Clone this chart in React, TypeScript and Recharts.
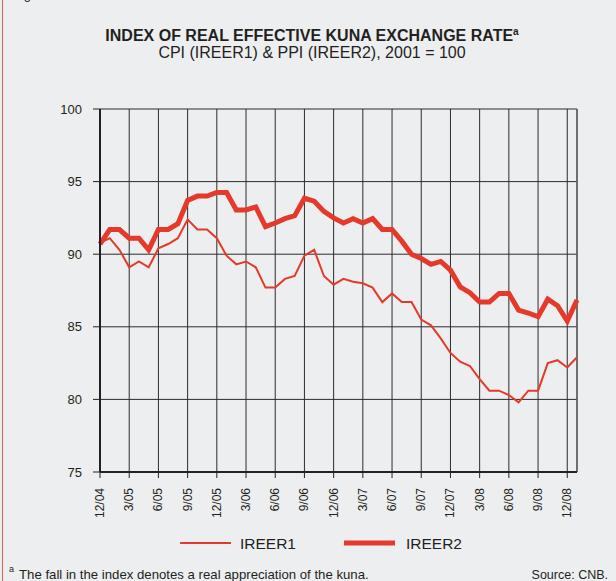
import React from "react";
import { LineChart, Line, XAxis, YAxis, CartesianGrid, ReferenceLine } from "recharts";

const months = [
  "12/04",
  "1/05", "2/05", "3/05", "4/05", "5/05", "6/05", "7/05", "8/05", "9/05", "10/05", "11/05", "12/05",
  "1/06", "2/06", "3/06", "4/06", "5/06", "6/06", "7/06", "8/06", "9/06", "10/06", "11/06", "12/06",
  "1/07", "2/07", "3/07", "4/07", "5/07", "6/07", "7/07", "8/07", "9/07", "10/07", "11/07", "12/07",
  "1/08", "2/08", "3/08", "4/08", "5/08", "6/08", "7/08", "8/08", "9/08", "10/08", "11/08", "12/08",
  "1/09",
];

const ireer1 = [
  90.8, 91.1, 90.3, 89.1, 89.5, 89.1, 90.4, 90.7, 91.1, 92.4, 91.7, 91.7, 91.1,
  89.9, 89.3, 89.5, 89.1, 87.7, 87.7, 88.3, 88.5, 89.9, 90.3, 88.5, 87.9,
  88.3, 88.1, 88.0, 87.7, 86.7, 87.3, 86.7, 86.7, 85.5, 85.1, 84.2, 83.2,
  82.6, 82.3, 81.4, 80.6, 80.6, 80.3, 79.8, 80.6, 80.6, 82.5, 82.7, 82.2,
  82.9,
];

const ireer2 = [
  90.7, 91.7, 91.7, 91.1, 91.1, 90.3, 91.7, 91.7, 92.1, 93.7, 94.0, 94.0, 94.25,
  94.25, 93.05, 93.05, 93.25, 91.9, 92.15, 92.45, 92.65, 93.85, 93.65, 92.95, 92.5,
  92.15, 92.45, 92.15, 92.45, 91.7, 91.7, 90.9, 90.0, 89.7, 89.3, 89.5, 88.9,
  87.75, 87.35, 86.7, 86.7, 87.3, 87.3, 86.15, 85.95, 85.7, 86.9, 86.45, 85.4,
  86.85,
];

const tickLabels = [
  "12/04", "3/05", "6/05", "9/05", "12/05", "3/06", "6/06", "9/06", "12/06",
  "3/07", "6/07", "9/07", "12/07", "3/08", "6/08", "9/08", "12/08",
];

const yTicks = [75, 80, 85, 90, 95, 100];

const data = months.map((m, i) => ({ i, month: m, IREER1: ireer1[i], IREER2: ireer2[i] }));
const xTicks = tickLabels.map((l) => months.indexOf(l));

const FONT = '"Liberation Sans", Arial, sans-serif';
const RED = "#e5392b";
const INK = "#231f20";

const XTick = (props: any) => {
  const { x, y, payload } = props;
  return (
    <text
      x={x}
      y={y}
      transform={`rotate(-90 ${x} ${y})`}
      textAnchor="end"
      dominantBaseline="central"
      fontFamily={FONT}
      fontSize={12}
      fill={INK}
    >
      {months[payload.value]}
    </text>
  );
};

export default function App() {
  return (
    <div
      style={{
        position: "absolute",
        left: 0,
        top: 0,
        width: 616,
        height: 581,
        background: "#edeef0",
        overflow: "hidden",
        fontFamily: FONT,
      }}
    >
      <div style={{ position: "absolute", left: 2, top: 0, width: 1, height: 581, background: "#e06050" }} />
      <div style={{ position: "absolute", left: 0, top: 0 }}>
        <LineChart width={616} height={581} data={data} margin={{ top: 109, right: 39, bottom: 0, left: 0 }}>
          <CartesianGrid stroke="#2b2b2b" strokeWidth={1} />
          <XAxis
            dataKey="i"
            type="number"
            domain={[0, 49]}
            ticks={xTicks}
            interval={0}
            height={109}
            tickSize={6}
            tickMargin={10}
            tick={<XTick />}
            axisLine={{ stroke: "#222", strokeWidth: 2 }}
            tickLine={{ stroke: "#222" }}
          />
          <YAxis
            type="number"
            domain={[75, 100]}
            ticks={yTicks}
            width={100}
            tickSize={7}
            tickMargin={11}
            axisLine={{ stroke: "#222", strokeWidth: 2 }}
            tickLine={{ stroke: "#222" }}
            tick={{ fontFamily: FONT, fontSize: 13, fill: INK }}
          />
          <ReferenceLine x={49} stroke="#666" strokeWidth={1.5} />
          <Line
            type="linear"
            dataKey="IREER1"
            stroke={RED}
            strokeWidth={2}
            dot={false}
            isAnimationActive={false}
          />
          <Line
            type="linear"
            dataKey="IREER2"
            stroke={RED}
            strokeWidth={5}
            dot={false}
            isAnimationActive={false}
          />
        </LineChart>
      </div>
      <svg
        width={616}
        height={581}
        style={{ position: "absolute", left: 0, top: 0, pointerEvents: "none" }}
      >
        <text x={13} y={-1} fontFamily={FONT} fontSize={13} fill={INK}>Figure</text>
        <text x={312} y={41} textAnchor="middle" fontFamily={FONT} fontSize={16} fontWeight="bold" fill={INK}>
          INDEX OF REAL EFFECTIVE KUNA EXCHANGE RATE
          <tspan fontSize={10} dy={-6}>a</tspan>
        </text>
        <text x={312} y={58} textAnchor="middle" fontFamily={FONT} fontSize={16} fill={INK}>
          CPI (IREER1) &amp; PPI (IREER2), 2001 = 100
        </text>
        <line x1={180} x2={231} y1={543} y2={543} stroke={RED} strokeWidth={2} />
        <text x={240} y={543} dominantBaseline="central" fontFamily={FONT} fontSize={15.5} fill={INK}>IREER1</text>
        <line x1={344} x2={395} y1={543} y2={543} stroke={RED} strokeWidth={5} />
        <text x={406} y={543} dominantBaseline="central" fontFamily={FONT} fontSize={15.5} fill={INK}>IREER2</text>
        <text x={9} y={572} fontFamily={FONT} fontSize={9} fill={INK}>a</text>
        <text x={19} y={579} fontFamily={FONT} fontSize={13.2} fill={INK}>
          The fall in the index denotes a real appreciation of the kuna.
        </text>
        <text x={608} y={579} textAnchor="end" fontFamily={FONT} fontSize={12.5} fill={INK}>Source: CNB.</text>
      </svg>
    </div>
  );
}
